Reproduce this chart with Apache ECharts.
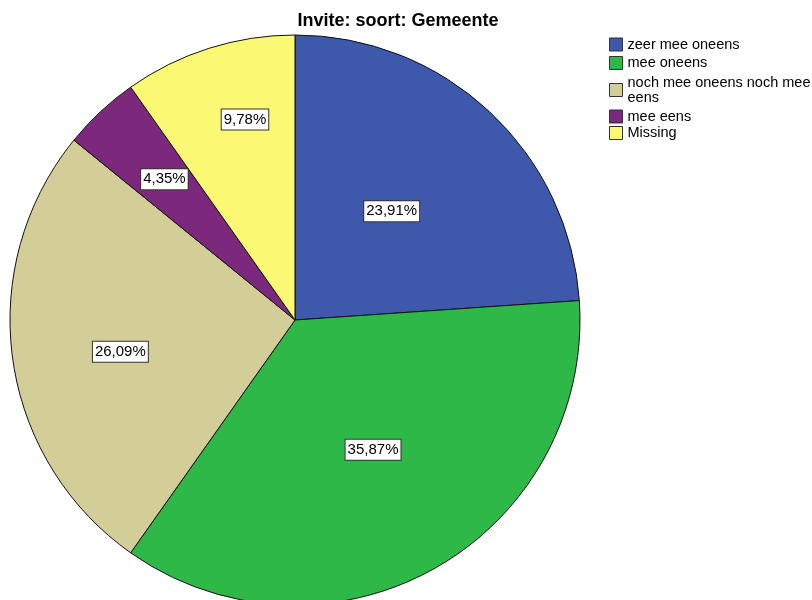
<!DOCTYPE html>
<html>
<head>
<meta charset="utf-8">
<script src="https://cdn.jsdelivr.net/npm/echarts@6/dist/echarts.min.js"></script>
<style>html,body{margin:0;padding:0;background:#fff}#c{width:812px;height:600px}</style>
</head>
<body>
<div id="c"></div>
<script>
// ---- data ----
const titleText = 'Invite: soort: Gemeente';
const categories = ['zeer mee oneens', 'mee oneens', 'noch mee oneens noch mee eens', 'mee eens', 'Missing'];
const counts = [22, 33, 24, 4, 9];
const legendLabels = ['zeer mee oneens', 'mee oneens', 'noch mee oneens noch mee\neens', 'mee eens', 'Missing'];

// ---- style / layout ----
const colors = ['#3E58AC', '#2EB848', '#D3CE97', '#7C287D', '#FBF873'];
const CX = 295, CY = 320, R = 285;
const labelRadiusFrac = [0.50, 0.52, 0.61, 0.66, 0.71];
const labelAngleShift = [-1.4, -1.7, -2.5, 0.2, 3.6];
const legendTops = [37, 55.5, 75, 109, 125.5];
const FONT = '"Liberation Sans", Arial, sans-serif';

const chart = echarts.init(document.getElementById('c'), null, {renderer: 'canvas'});

const legends = categories.map((name, i) => ({
  data: [name],
  left: 609,
  top: legendTops[i],
  padding: 0,
  itemWidth: 13,
  itemHeight: 13,
  icon: 'rect',
  selectedMode: false,
  itemStyle: {borderColor: '#333', borderWidth: 1},
  textStyle: {fontFamily: FONT, fontSize: 14.5, lineHeight: 15, color: '#000'},
  formatter: n => legendLabels[categories.indexOf(n)]
}));

chart.setOption({
  animation: false,
  color: colors,
  title: {
    text: titleText,
    left: 398,
    top: 12,
    padding: 0,
    textAlign: 'center',
    textStyle: {fontFamily: FONT, fontSize: 18, fontWeight: 'bold', color: '#000'}
  },
  legend: legends,
  series: [{
    type: 'pie',
    center: [CX, CY],
    radius: [0, R],
    startAngle: 90,
    clockwise: true,
    avoidLabelOverlap: false,
    emphasis: {disabled: true},
    itemStyle: {borderColor: '#111', borderWidth: 1},
    labelLine: {show: false},
    label: {
      show: true,
      position: 'inside',
      fontFamily: FONT,
      fontSize: 15,
      lineHeight: 15,
      color: '#000',
      backgroundColor: '#fff',
      borderColor: '#333',
      borderWidth: 1,
      padding: [3, 2, 2, 2],
      formatter: p => p.percent.toFixed(2).replace('.', ',') + '%'
    },
    labelLayout: p => {
      const lr = p.labelRect;
      const lx = lr.x + lr.width / 2, ly = lr.y + lr.height / 2;
      const vx = lx - CX, vy = ly - CY;
      const s = labelRadiusFrac[p.dataIndex] / 0.5;
      const a = labelAngleShift[p.dataIndex] * Math.PI / 180;
      const nx = s * (vx * Math.cos(a) - vy * Math.sin(a));
      const ny = s * (vx * Math.sin(a) + vy * Math.cos(a));
      return {dx: nx - vx, dy: ny - vy};
    },
    data: categories.map((n, i) => ({name: n, value: counts[i]}))
  }]
});
</script>
</body>
</html>
